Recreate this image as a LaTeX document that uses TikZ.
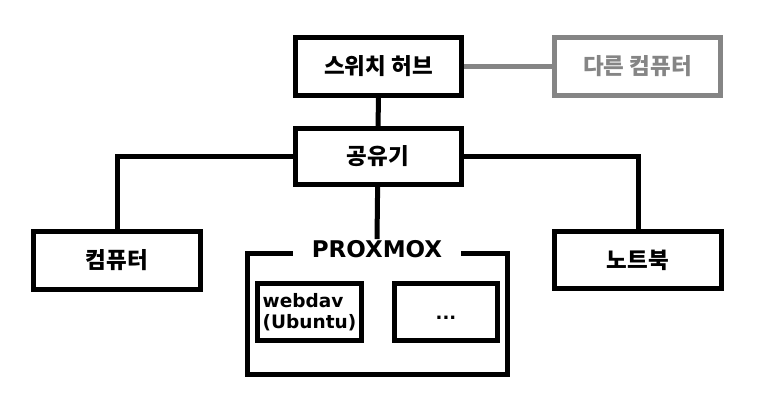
\documentclass[tikz,border=0pt]{standalone}
\usepackage{fontspec}
\setmainfont{Noto Sans CJK KR}
\newfontfamily\latinfont{DejaVu Sans}
\usetikzlibrary{positioning}
\tikzset{
  net box/.style={draw=black, line width=5pt, fill=white, minimum width=166pt,
    minimum height=58pt, inner sep=2pt, font=\fontsize{22.5}{26}\selectfont\bfseries},
  guest box/.style={draw=black, line width=5pt, minimum width=104pt,
    minimum height=57pt, inner sep=2pt, align=left},
  link/.style={line width=5pt},
  far link/.style={line width=5pt, draw=black!48}
}
\newcommand{\netBox}[4][]{%
  \node[net box,#1] (#2) at (#3) {#4};%
}

\begin{document}
\begin{tikzpicture}[x=1pt,y=-1pt]
  \useasboundingbox (0,0) rectangle (763,401);

  \netBox{hub}{378.5,66.5}{스위치 허브}
  \netBox[draw=black!48,text=black!48]{other}{637.5,66.5}{다른 컴퓨터}
  \netBox[minimum height=56pt]{router}{378,156.5}{공유기}
  \netBox[minimum width=167pt]{pc}{117,260.5}{컴퓨터}
  \netBox[minimum width=167pt,minimum height=57pt]{laptop}{638,260}{노트북}

  % proxmox host with its guests
  \node[draw=black, line width=5pt, minimum width=260pt, minimum height=121pt]
    (pve) at (377.5,314) {};
  \node[fill=white, inner xsep=19pt, inner ysep=1pt,
    font=\latinfont\fontsize{23}{28}\selectfont\bfseries] (pvetitle) at (377,249) {PROXMOX};
  \node[guest box, font=\latinfont\fontsize{18.5}{21}\selectfont\bfseries]
    (webdav) at (309.5,312) {webdav\\(Ubuntu)};
  \node[guest box, minimum width=103pt, text height=15pt, text depth=0pt,
    font=\latinfont\fontsize{18}{24}\selectfont\bfseries] (more) at (446,312) {...};

  \draw[link] (hub) -- (router);
  \draw[far link] (hub) -- (other);
  \draw[link] (router.west) -| (pc.north);
  \draw[link] (router.east) -| (laptop.north);
  \draw[link] (router) -- (pvetitle.north);
\end{tikzpicture}
\end{document}
